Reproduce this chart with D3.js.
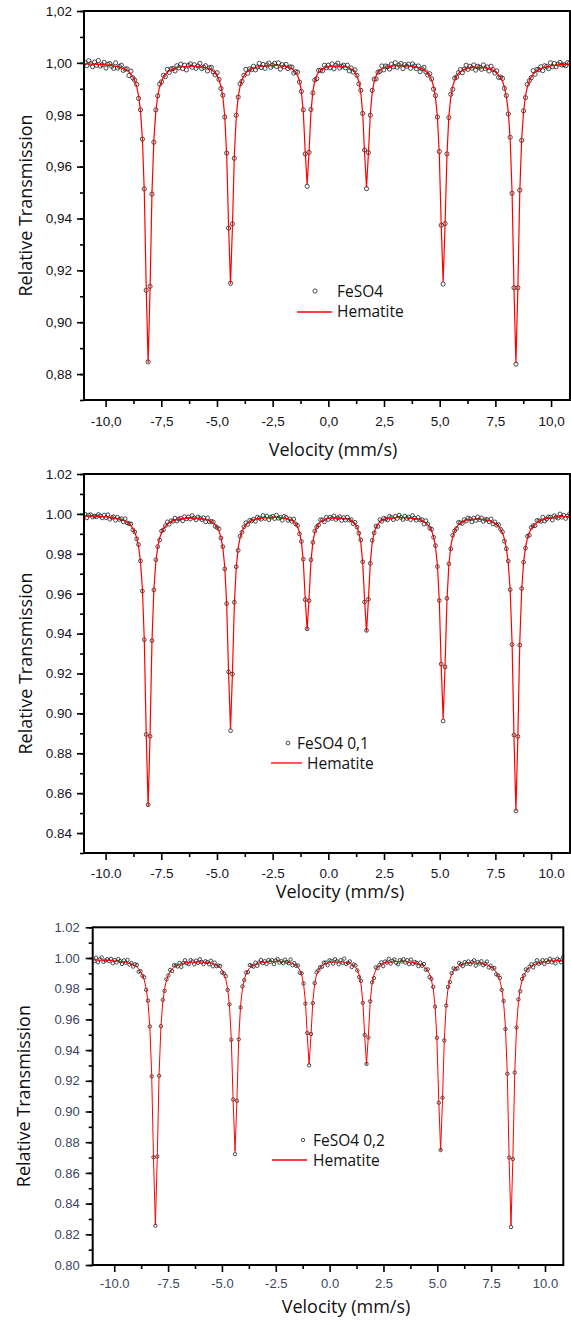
<!DOCTYPE html>
<html>
<head>
<meta charset="utf-8">
<script src="https://cdn.jsdelivr.net/npm/d3@7"></script>
<style>
  body { margin: 0; background: #fff; }
  svg { display: block; }
</style>
</head>
<body>
<svg id="mossbauer" width="571" height="1321"></svg>
<script>
// channel velocities (mm/s), shared by the three spectra
var velocity = [
-10.928,-10.842,-10.756,-10.670,-10.584,-10.498,-10.412,-10.326,-10.240,-10.154,
-10.068,-9.982,-9.896,-9.810,-9.724,-9.638,-9.552,-9.466,-9.380,-9.294,
-9.208,-9.122,-9.036,-8.950,-8.864,-8.778,-8.692,-8.606,-8.520,-8.434,
-8.348,-8.262,-8.176,-8.090,-8.004,-7.918,-7.832,-7.746,-7.660,-7.574,
-7.488,-7.402,-7.316,-7.230,-7.144,-7.058,-6.972,-6.886,-6.800,-6.714,
-6.628,-6.542,-6.456,-6.370,-6.284,-6.198,-6.112,-6.026,-5.940,-5.854,
-5.768,-5.682,-5.596,-5.510,-5.424,-5.338,-5.252,-5.166,-5.080,-4.994,
-4.908,-4.822,-4.736,-4.650,-4.564,-4.478,-4.392,-4.306,-4.220,-4.134,
-4.048,-3.962,-3.876,-3.790,-3.704,-3.618,-3.532,-3.446,-3.360,-3.274,
-3.188,-3.102,-3.016,-2.930,-2.844,-2.758,-2.672,-2.586,-2.500,-2.414,
-2.328,-2.242,-2.156,-2.070,-1.984,-1.898,-1.812,-1.726,-1.640,-1.554,
-1.468,-1.382,-1.296,-1.210,-1.124,-1.038,-0.952,-0.866,-0.780,-0.694,
-0.608,-0.522,-0.436,-0.350,-0.264,-0.178,-0.092,-0.006,0.080,0.166,
0.252,0.338,0.424,0.510,0.596,0.682,0.768,0.854,0.940,1.026,
1.112,1.198,1.284,1.370,1.456,1.542,1.628,1.714,1.800,1.886,
1.972,2.058,2.144,2.230,2.316,2.402,2.488,2.574,2.660,2.746,
2.832,2.918,3.004,3.090,3.176,3.262,3.348,3.434,3.520,3.606,
3.692,3.778,3.864,3.950,4.036,4.122,4.208,4.294,4.380,4.466,
4.552,4.638,4.724,4.810,4.896,4.982,5.068,5.154,5.240,5.326,
5.412,5.498,5.584,5.670,5.756,5.842,5.928,6.014,6.100,6.186,
6.272,6.358,6.444,6.530,6.616,6.702,6.788,6.874,6.960,7.046,
7.132,7.218,7.304,7.390,7.476,7.562,7.648,7.734,7.820,7.906,
7.992,8.078,8.164,8.250,8.336,8.422,8.508,8.594,8.680,8.766,
8.852,8.938,9.024,9.110,9.196,9.282,9.368,9.454,9.540,9.626,
9.712,9.798,9.884,9.970,10.056,10.142,10.228,10.314,10.400,10.486,
10.572,10.658,10.744,10.830,10.916,11.002]

// FeSO4 : measured points and Hematite fit
var feso4 = [
1.0001,0.9989,1.0008,0.9997,0.9985,1.0003,0.9991,1.0009,0.9988,0.9993,
1.0002,0.9980,0.9995,0.9997,0.9987,0.9979,1.0000,0.9980,0.9986,0.9991,
0.9971,0.9976,0.9977,0.9951,0.9968,0.9942,0.9933,0.9917,0.9863,0.9819,
0.9706,0.9514,0.9123,0.8847,0.9138,0.9494,0.9694,0.9819,0.9873,0.9918,
0.9927,0.9952,0.9947,0.9975,0.9963,0.9977,0.9978,0.9969,0.9989,0.9981,
0.9995,0.9978,0.9991,0.9973,0.9990,0.9996,0.9983,0.9993,0.9979,0.9988,
0.9998,0.9978,0.9983,0.9989,0.9969,0.9981,0.9983,0.9965,0.9954,0.9962,
0.9936,0.9901,0.9875,0.9791,0.9652,0.9363,0.9150,0.9379,0.9632,0.9798,
0.9868,0.9919,0.9929,0.9952,0.9975,0.9960,0.9977,0.9974,0.9987,0.9973,
0.9984,0.9998,0.9982,0.9994,0.9979,0.9992,0.9999,0.9983,0.9991,0.9998,
0.9986,1.0000,0.9976,0.9993,0.9985,0.9994,0.9978,0.9984,0.9984,0.9961,
0.9966,0.9964,0.9926,0.9890,0.9819,0.9649,0.9524,0.9655,0.9820,0.9884,
0.9934,0.9939,0.9971,0.9972,0.9969,0.9991,0.9981,0.9991,0.9981,0.9996,
0.9977,0.9991,0.9999,0.9980,0.9987,0.9991,0.9981,0.9991,0.9969,0.9980,
0.9965,0.9973,0.9952,0.9919,0.9894,0.9805,0.9664,0.9515,0.9654,0.9798,
0.9894,0.9937,0.9938,0.9964,0.9967,0.9988,0.9973,0.9988,0.9985,0.9976,
0.9995,0.9985,1.0001,0.9983,0.9991,0.9998,0.9978,0.9993,0.9987,0.9995,
0.9979,0.9996,0.9988,0.9978,0.9988,0.9966,0.9977,0.9983,0.9965,0.9953,
0.9958,0.9938,0.9899,0.9874,0.9791,0.9658,0.9374,0.9147,0.9380,0.9649,
0.9789,0.9879,0.9898,0.9941,0.9945,0.9962,0.9974,0.9962,0.9976,0.9991,
0.9975,0.9987,0.9980,0.9992,0.9972,0.9987,0.9983,0.9975,0.9992,0.9978,
0.9984,0.9969,0.9987,0.9974,0.9961,0.9969,0.9944,0.9945,0.9940,0.9902,
0.9874,0.9803,0.9713,0.9497,0.9133,0.8838,0.9133,0.9509,0.9701,0.9815,
0.9866,0.9917,0.9931,0.9943,0.9970,0.9956,0.9975,0.9973,0.9985,0.9970,
0.9989,0.9986,0.9978,1.0000,0.9985,0.9998,0.9985,0.9995,1.0002,0.9992,
0.9993,0.9989,1.0001,0.9999,0.9985,1.0004]
var hematite = [
0.9996,0.9996,0.9996,0.9995,0.9995,0.9995,0.9994,0.9994,0.9994,0.9993,
0.9993,0.9992,0.9991,0.9990,0.9989,0.9988,0.9987,0.9985,0.9983,0.9981,
0.9979,0.9975,0.9971,0.9965,0.9957,0.9946,0.9931,0.9909,0.9874,0.9814,
0.9707,0.9500,0.9130,0.8844,0.9129,0.9499,0.9706,0.9813,0.9873,0.9908,
0.9930,0.9945,0.9956,0.9963,0.9969,0.9973,0.9977,0.9979,0.9981,0.9983,
0.9984,0.9985,0.9986,0.9986,0.9987,0.9987,0.9987,0.9987,0.9987,0.9986,
0.9985,0.9984,0.9983,0.9982,0.9980,0.9977,0.9973,0.9968,0.9961,0.9950,
0.9935,0.9910,0.9869,0.9793,0.9644,0.9368,0.9147,0.9368,0.9644,0.9793,
0.9869,0.9910,0.9935,0.9950,0.9961,0.9968,0.9973,0.9977,0.9980,0.9983,
0.9984,0.9986,0.9987,0.9988,0.9988,0.9989,0.9989,0.9990,0.9990,0.9990,
0.9990,0.9989,0.9989,0.9988,0.9987,0.9985,0.9984,0.9981,0.9977,0.9972,
0.9964,0.9951,0.9930,0.9890,0.9811,0.9658,0.9531,0.9658,0.9810,0.9890,
0.9930,0.9951,0.9964,0.9971,0.9977,0.9980,0.9983,0.9985,0.9986,0.9987,
0.9987,0.9988,0.9987,0.9987,0.9987,0.9986,0.9984,0.9983,0.9980,0.9976,
0.9971,0.9963,0.9950,0.9928,0.9887,0.9806,0.9651,0.9520,0.9651,0.9806,
0.9888,0.9928,0.9950,0.9963,0.9971,0.9977,0.9980,0.9983,0.9985,0.9986,
0.9987,0.9988,0.9989,0.9989,0.9989,0.9989,0.9989,0.9989,0.9988,0.9988,
0.9987,0.9986,0.9985,0.9983,0.9982,0.9979,0.9976,0.9972,0.9967,0.9960,
0.9949,0.9934,0.9909,0.9868,0.9794,0.9646,0.9374,0.9155,0.9375,0.9647,
0.9795,0.9869,0.9910,0.9934,0.9949,0.9959,0.9966,0.9971,0.9975,0.9978,
0.9980,0.9981,0.9982,0.9983,0.9983,0.9983,0.9983,0.9982,0.9982,0.9981,
0.9979,0.9977,0.9975,0.9972,0.9967,0.9962,0.9954,0.9944,0.9929,0.9906,
0.9871,0.9812,0.9705,0.9498,0.9127,0.8842,0.9129,0.9499,0.9706,0.9813,
0.9873,0.9908,0.9931,0.9946,0.9957,0.9964,0.9970,0.9975,0.9978,0.9981,
0.9983,0.9985,0.9987,0.9988,0.9989,0.9990,0.9991,0.9992,0.9992,0.9993,
0.9993,0.9994,0.9994,0.9995,0.9995,0.9995]

// FeSO4 0,1
var feso4_01 = [
0.9999,0.9980,0.9994,0.9996,0.9984,0.9989,0.9986,0.9997,0.9990,0.9980,
0.9994,0.9981,0.9996,0.9973,0.9982,0.9986,0.9968,0.9983,0.9972,0.9976,
0.9960,0.9976,0.9955,0.9951,0.9950,0.9920,0.9910,0.9875,0.9846,0.9764,
0.9613,0.9369,0.8894,0.8542,0.8885,0.9365,0.9619,0.9770,0.9836,0.9869,
0.9914,0.9920,0.9941,0.9960,0.9948,0.9966,0.9963,0.9979,0.9964,0.9974,
0.9979,0.9965,0.9986,0.9975,0.9985,0.9974,0.9992,0.9980,0.9970,0.9985,
0.9979,0.9971,0.9981,0.9960,0.9980,0.9960,0.9963,0.9960,0.9938,0.9932,
0.9925,0.9879,0.9836,0.9724,0.9550,0.9208,0.8913,0.9197,0.9557,0.9735,
0.9817,0.9888,0.9908,0.9935,0.9956,0.9947,0.9968,0.9965,0.9974,0.9963,
0.9984,0.9979,0.9973,0.9992,0.9977,0.9989,0.9971,0.9983,0.9988,0.9976,
0.9994,0.9978,0.9983,0.9968,0.9988,0.9983,0.9967,0.9975,0.9962,0.9974,
0.9950,0.9942,0.9900,0.9862,0.9773,0.9570,0.9424,0.9565,0.9770,0.9857,
0.9914,0.9935,0.9944,0.9971,0.9970,0.9960,0.9983,0.9972,0.9984,0.9977,
0.9990,0.9972,0.9980,0.9986,0.9967,0.9982,0.9969,0.9984,0.9968,0.9971,
0.9951,0.9958,0.9934,0.9903,0.9870,0.9760,0.9558,0.9416,0.9572,0.9752,
0.9867,0.9905,0.9939,0.9937,0.9971,0.9963,0.9979,0.9975,0.9970,0.9988,
0.9982,0.9971,0.9988,0.9977,0.9994,0.9982,0.9972,0.9989,0.9977,0.9984,
0.9971,0.9992,0.9979,0.9968,0.9982,0.9969,0.9971,0.9949,0.9966,0.9949,
0.9928,0.9923,0.9883,0.9841,0.9736,0.9566,0.9247,0.8962,0.9233,0.9577,
0.9750,0.9825,0.9893,0.9915,0.9927,0.9958,0.9956,0.9952,0.9971,0.9964,
0.9980,0.9975,0.9960,0.9979,0.9967,0.9985,0.9971,0.9980,0.9962,0.9972,
0.9972,0.9960,0.9975,0.9950,0.9960,0.9943,0.9946,0.9923,0.9910,0.9863,
0.9825,0.9763,0.9620,0.9345,0.8891,0.8511,0.8884,0.9342,0.9626,0.9758,
0.9828,0.9888,0.9893,0.9932,0.9941,0.9941,0.9967,0.9966,0.9962,0.9984,
0.9964,0.9974,0.9985,0.9984,0.9969,0.9991,0.9984,0.9979,1.0000,0.9983,
0.9994,0.9977,0.9989,1.0001,0.9982,0.9994]
var hematite_01 = [
0.9990,0.9990,0.9990,0.9989,0.9989,0.9989,0.9987,0.9987,0.9987,0.9986,
0.9986,0.9985,0.9984,0.9982,0.9981,0.9980,0.9979,0.9976,0.9974,0.9971,
0.9968,0.9963,0.9958,0.9951,0.9941,0.9927,0.9908,0.9880,0.9836,0.9760,
0.9625,0.9363,0.8895,0.8534,0.8894,0.9362,0.9623,0.9759,0.9835,0.9879,
0.9907,0.9926,0.9939,0.9948,0.9956,0.9961,0.9966,0.9969,0.9971,0.9974,
0.9975,0.9976,0.9977,0.9977,0.9979,0.9979,0.9979,0.9979,0.9979,0.9977,
0.9976,0.9975,0.9974,0.9972,0.9970,0.9966,0.9961,0.9955,0.9946,0.9932,
0.9913,0.9882,0.9830,0.9734,0.9546,0.9199,0.8920,0.9199,0.9546,0.9734,
0.9830,0.9882,0.9913,0.9932,0.9946,0.9955,0.9961,0.9966,0.9970,0.9974,
0.9975,0.9977,0.9979,0.9980,0.9980,0.9981,0.9981,0.9983,0.9983,0.9983,
0.9983,0.9982,0.9982,0.9980,0.9979,0.9977,0.9975,0.9972,0.9967,0.9961,
0.9951,0.9935,0.9909,0.9860,0.9763,0.9576,0.9420,0.9576,0.9762,0.9860,
0.9909,0.9935,0.9951,0.9959,0.9967,0.9970,0.9974,0.9977,0.9978,0.9979,
0.9979,0.9980,0.9979,0.9979,0.9979,0.9978,0.9975,0.9974,0.9971,0.9966,
0.9960,0.9950,0.9934,0.9907,0.9857,0.9758,0.9569,0.9409,0.9569,0.9758,
0.9858,0.9907,0.9934,0.9950,0.9960,0.9967,0.9971,0.9974,0.9977,0.9978,
0.9979,0.9980,0.9982,0.9982,0.9982,0.9982,0.9982,0.9982,0.9980,0.9980,
0.9979,0.9978,0.9977,0.9974,0.9973,0.9970,0.9966,0.9961,0.9955,0.9946,
0.9933,0.9915,0.9885,0.9835,0.9745,0.9565,0.9235,0.8969,0.9236,0.9567,
0.9746,0.9836,0.9886,0.9915,0.9933,0.9945,0.9954,0.9960,0.9965,0.9968,
0.9971,0.9972,0.9973,0.9974,0.9974,0.9974,0.9973,0.9972,0.9972,0.9971,
0.9968,0.9966,0.9963,0.9959,0.9953,0.9946,0.9936,0.9923,0.9904,0.9875,
0.9830,0.9754,0.9617,0.9352,0.8877,0.8512,0.8879,0.9353,0.9618,0.9756,
0.9832,0.9877,0.9907,0.9926,0.9940,0.9949,0.9957,0.9963,0.9967,0.9971,
0.9973,0.9976,0.9978,0.9980,0.9981,0.9982,0.9984,0.9985,0.9985,0.9986,
0.9986,0.9987,0.9987,0.9989,0.9989,0.9989]

// FeSO4 0,2
var feso4_02 = [
0.9979,1.0001,0.9972,0.9991,1.0004,0.9975,0.9984,0.9992,0.9979,0.9995,
0.9966,0.9987,0.9971,0.9993,0.9980,0.9961,0.9985,0.9969,0.9988,0.9957,
0.9967,0.9944,0.9959,0.9955,0.9911,0.9914,0.9884,0.9874,0.9793,0.9722,
0.9554,0.9229,0.8702,0.8256,0.8706,0.9233,0.9556,0.9727,0.9786,0.9861,
0.9886,0.9922,0.9915,0.9953,0.9952,0.9945,0.9968,0.9942,0.9967,0.9985,
0.9966,0.9960,0.9986,0.9978,0.9959,0.9983,0.9969,0.9992,0.9974,0.9960,
0.9979,0.9973,0.9959,0.9982,0.9946,0.9970,0.9947,0.9951,0.9948,0.9906,
0.9899,0.9881,0.9792,0.9698,0.9467,0.9078,0.8722,0.9070,0.9470,0.9678,
0.9815,0.9856,0.9905,0.9908,0.9954,0.9949,0.9944,0.9970,0.9949,0.9970,
0.9987,0.9966,0.9979,0.9961,0.9987,0.9975,0.9986,0.9960,0.9984,0.9993,
0.9970,0.9980,0.9966,0.9989,0.9974,0.9966,0.9990,0.9953,0.9967,0.9949,
0.9951,0.9904,0.9900,0.9834,0.9703,0.9511,0.9301,0.9505,0.9706,0.9837,
0.9906,0.9919,0.9940,0.9943,0.9970,0.9970,0.9953,0.9985,0.9981,0.9963,
0.9992,0.9978,0.9959,0.9986,0.9969,0.9996,0.9961,0.9969,0.9978,0.9941,
0.9958,0.9951,0.9919,0.9876,0.9851,0.9708,0.9499,0.9310,0.9482,0.9718,
0.9842,0.9869,0.9939,0.9934,0.9955,0.9972,0.9947,0.9977,0.9970,0.9994,
0.9963,0.9981,0.9991,0.9969,0.9959,0.9986,0.9977,0.9992,0.9970,0.9986,
0.9960,0.9990,0.9962,0.9974,0.9968,0.9947,0.9970,0.9949,0.9961,0.9923,
0.9926,0.9876,0.9864,0.9812,0.9683,0.9480,0.9057,0.8749,0.9090,0.9463,
0.9690,0.9811,0.9843,0.9902,0.9933,0.9928,0.9932,0.9968,0.9958,0.9947,
0.9973,0.9962,0.9978,0.9960,0.9973,0.9985,0.9950,0.9974,0.9964,0.9979,
0.9953,0.9962,0.9977,0.9939,0.9950,0.9931,0.9935,0.9894,0.9887,0.9870,
0.9792,0.9720,0.9537,0.9246,0.8700,0.8247,0.8690,0.9254,0.9547,0.9730,
0.9783,0.9863,0.9887,0.9926,0.9920,0.9944,0.9959,0.9939,0.9963,0.9985,
0.9962,0.9971,0.9986,0.9961,0.9985,0.9973,0.9995,0.9972,0.9987,0.9965,
0.9994,0.9986,0.9972,1.0003,0.9983,0.9995]
var hematite_02 = [
0.9987,0.9987,0.9987,0.9986,0.9986,0.9986,0.9984,0.9984,0.9984,0.9983,
0.9983,0.9981,0.9980,0.9978,0.9977,0.9975,0.9974,0.9971,0.9968,0.9965,
0.9962,0.9956,0.9950,0.9941,0.9929,0.9912,0.9890,0.9857,0.9804,0.9714,
0.9554,0.9244,0.8690,0.8261,0.8688,0.9242,0.9553,0.9713,0.9803,0.9855,
0.9888,0.9911,0.9927,0.9938,0.9947,0.9953,0.9959,0.9962,0.9965,0.9968,
0.9969,0.9971,0.9972,0.9972,0.9974,0.9974,0.9974,0.9974,0.9974,0.9972,
0.9971,0.9970,0.9968,0.9967,0.9964,0.9959,0.9953,0.9946,0.9936,0.9920,
0.9897,0.9861,0.9800,0.9689,0.9470,0.9064,0.8739,0.9064,0.9470,0.9689,
0.9800,0.9861,0.9897,0.9920,0.9936,0.9946,0.9953,0.9959,0.9964,0.9968,
0.9970,0.9972,0.9974,0.9975,0.9975,0.9977,0.9977,0.9978,0.9978,0.9978,
0.9978,0.9977,0.9977,0.9975,0.9974,0.9971,0.9970,0.9965,0.9959,0.9952,
0.9940,0.9921,0.9891,0.9832,0.9717,0.9493,0.9307,0.9493,0.9715,0.9832,
0.9891,0.9921,0.9940,0.9951,0.9959,0.9964,0.9968,0.9971,0.9973,0.9974,
0.9974,0.9975,0.9974,0.9974,0.9974,0.9973,0.9970,0.9969,0.9964,0.9959,
0.9952,0.9940,0.9922,0.9890,0.9831,0.9716,0.9494,0.9307,0.9494,0.9716,
0.9833,0.9890,0.9922,0.9940,0.9952,0.9960,0.9964,0.9969,0.9972,0.9973,
0.9974,0.9976,0.9977,0.9977,0.9977,0.9977,0.9977,0.9977,0.9975,0.9975,
0.9974,0.9972,0.9971,0.9968,0.9966,0.9962,0.9958,0.9952,0.9944,0.9934,
0.9918,0.9896,0.9859,0.9798,0.9689,0.9471,0.9069,0.8746,0.9070,0.9472,
0.9690,0.9800,0.9860,0.9896,0.9918,0.9933,0.9943,0.9950,0.9956,0.9961,
0.9964,0.9965,0.9966,0.9968,0.9968,0.9968,0.9968,0.9966,0.9966,0.9965,
0.9962,0.9959,0.9956,0.9951,0.9944,0.9936,0.9924,0.9909,0.9887,0.9852,
0.9800,0.9711,0.9551,0.9241,0.8685,0.8258,0.8688,0.9242,0.9553,0.9713,
0.9803,0.9855,0.9890,0.9912,0.9929,0.9939,0.9948,0.9956,0.9960,0.9965,
0.9968,0.9971,0.9974,0.9975,0.9977,0.9978,0.9980,0.9981,0.9981,0.9983,
0.9983,0.9984,0.9984,0.9986,0.9986,0.9986]

var xTicks = [-10, -7.5, -5, -2.5, 0, 2.5, 5, 7.5, 10]
var xMinor = [-8.75, -6.25, -3.75, -1.25, 1.25, 3.75, 6.25, 8.75]
var yTicksA = [0.88, 0.90, 0.92, 0.94, 0.96, 0.98, 1.00, 1.02]
var yTicksB = [0.84, 0.86, 0.88, 0.90, 0.92, 0.94, 0.96, 0.98, 1.00, 1.02]
var yTicksC = [0.80, 0.82, 0.84, 0.86, 0.88, 0.90, 0.92, 0.94, 0.96, 0.98, 1.00, 1.02]
var sampleNames = ["FeSO4", "FeSO4 0,1", "FeSO4 0,2"]
var fitName = "Hematite"

var commaLocale = d3.formatLocale({decimal: ",", thousands: ".", grouping: [3], currency: ["", ""], minus: "-"})
var dotLocale = d3.formatLocale({decimal: ".", thousands: ",", grouping: [3], currency: ["", ""], minus: "-"})

var svg = d3.select("#mossbauer")

var panels = [
    {obs: feso4, fit: hematite, name: sampleNames[0], loc: commaLocale,
     left: 84, right: 570, top: 11, bottom: 400, xDom: [-10.97, 10.85], yDom: [0.87, 1.02],
     yTicks: yTicksA, tickColor: "#111", fs: 13.5, xPad: 9, yPad: 5, r: 2.1, lw: 1.2,
     xTitle: [333, 456], yTitleX: 32, legend: {mx: 315, my: 291, lx0: 297, lx1: 332, ly: 312, tx: 337, ty1: 296.5, ty2: 317}},
    {obs: feso4_01, fit: hematite_01, name: sampleNames[1], loc: dotLocale,
     left: 84, right: 570, top: 474, bottom: 853, xDom: [-10.97, 10.85], yDom: [0.83, 1.02],
     yTicks: yTicksB, tickColor: "#14142a", fs: 13.5, xPad: 8, yPad: 5, r: 1.9, lw: 1.2,
     xTitle: [340, 898], yTitleX: 32, legend: {mx: 288, my: 743, lx0: 271, lx1: 302, ly: 763, tx: 297, ty1: 749, ty2: 769}},
    {obs: feso4_02, fit: hematite_02, name: sampleNames[2], loc: dotLocale,
     left: 92.7, right: 563.3, top: 927.3, bottom: 1265, xDom: [-11.0, 10.85], yDom: [0.80, 1.02],
     yTicks: yTicksC, tickColor: "#3b4660", fs: 13, xPad: 7, yPad: 6, r: 1.7, lw: 1.0,
     xTitle: [346, 1313], yTitleX: 30, legend: {mx: 303, my: 1140, lx0: 272, lx1: 307, ly: 1160, tx: 313, ty1: 1146, ty2: 1166}}
]

panels.forEach(function(p, k){

    var xScale = d3.scaleLinear().domain(p.xDom).range([p.left, p.right])
    var yScale = d3.scaleLinear().domain(p.yDom).range([p.bottom, p.top])

    svg.append("clipPath").attr("id", "clip" + k)
        .append("rect")
        .attr("x", p.left).attr("y", p.top)
        .attr("width", p.right - p.left).attr("height", p.bottom - p.top)

    var plot = svg.append("g").attr("clip-path", "url(#clip" + k + ")")

    // measured points
    plot.selectAll("circle")
        .data(velocity)
        .enter()
        .append("circle")
        .attr("cx", d => xScale(d))
        .attr("cy", (d, i) => yScale(p.obs[i]))
        .attr("r", p.r)
        .attr("fill", "none")
        .attr("stroke", "#1e1e1e")
        .attr("stroke-width", 0.8)

    // fit
    var line = d3.line()
        .x(d => xScale(d))
        .y((d, i) => yScale(p.fit[i]))
    plot.append("path")
        .datum(velocity)
        .attr("d", line)
        .attr("fill", "none")
        .attr("stroke", "#ff0000")
        .attr("stroke-width", p.lw)

    // axes
    var yAxisGen = d3.axisLeft(yScale).tickValues(p.yTicks).tickSize(7).tickPadding(p.yPad)
        .tickFormat(p.loc.format(".2f")).tickSizeOuter(0)
    var yMinorGen = d3.axisLeft(yScale)
        .tickValues(d3.range(Math.round(p.yDom[0] * 100), Math.round(p.yDom[1] * 100) + 1).map(v => v / 100))
        .tickSize(4).tickFormat("").tickSizeOuter(0)
    var xAxisGen = d3.axisBottom(xScale).tickValues(xTicks).tickSize(7).tickPadding(p.xPad)
        .tickFormat(p.loc.format(".1f")).tickSizeOuter(0)
    var xMinorGen = d3.axisBottom(xScale).tickValues(xMinor).tickSize(4).tickFormat("").tickSizeOuter(0)

    var axes = [
        svg.append("g").attr("transform", "translate(" + p.left + ",0)").call(yMinorGen),
        svg.append("g").attr("transform", "translate(" + p.left + ",0)").call(yAxisGen),
        svg.append("g").attr("transform", "translate(0," + p.bottom + ")").call(xMinorGen),
        svg.append("g").attr("transform", "translate(0," + p.bottom + ")").call(xAxisGen)
    ]
    axes.forEach(function(a){
        a.select(".domain").remove()
        a.selectAll("line").attr("stroke", "#000").attr("stroke-width", 1.6)
        a.attr("font-family", "'Liberation Sans', Arial, sans-serif").attr("font-size", p.fs)
        a.selectAll("text").attr("fill", p.tickColor)
    })

    // frame
    svg.append("rect")
        .attr("x", p.left).attr("y", p.top)
        .attr("width", p.right - p.left).attr("height", p.bottom - p.top)
        .attr("fill", "none").attr("stroke", "#000").attr("stroke-width", 2)

    // axis titles
    svg.append("text")
        .attr("x", p.xTitle[0]).attr("y", p.xTitle[1])
        .attr("text-anchor", "middle")
        .attr("font-family", "'Open Sans', sans-serif")
        .attr("font-size", 18)
        .attr("fill", "#111")
        .text("Velocity (mm/s)")

    svg.append("text")
        .attr("transform", "translate(" + p.yTitleX + "," + ((p.top + p.bottom) / 2) + ") rotate(-90)")
        .attr("text-anchor", "middle")
        .attr("font-family", "'Open Sans', sans-serif")
        .attr("font-size", 18)
        .attr("fill", "#111")
        .text("Relative Transmission")

    // legend
    var lg = p.legend
    svg.append("circle")
        .attr("cx", lg.mx).attr("cy", lg.my).attr("r", p.r)
        .attr("fill", "none").attr("stroke", "#1e1e1e").attr("stroke-width", 0.8)
    svg.append("line")
        .attr("x1", lg.lx0).attr("x2", lg.lx1).attr("y1", lg.ly).attr("y2", lg.ly)
        .attr("stroke", "#ff0000").attr("stroke-width", 1.3)
    svg.append("text")
        .attr("x", lg.tx).attr("y", lg.ty1)
        .attr("font-family", "'Open Sans', sans-serif").attr("font-size", 15.5).attr("fill", "#111")
        .text(p.name)
    svg.append("text")
        .attr("x", lg.tx + (k == 1 ? 10 : 0)).attr("y", lg.ty2)
        .attr("font-family", "'Open Sans', sans-serif").attr("font-size", 15.5).attr("fill", "#111")
        .text(fitName)
})
</script>
</body>
</html>
